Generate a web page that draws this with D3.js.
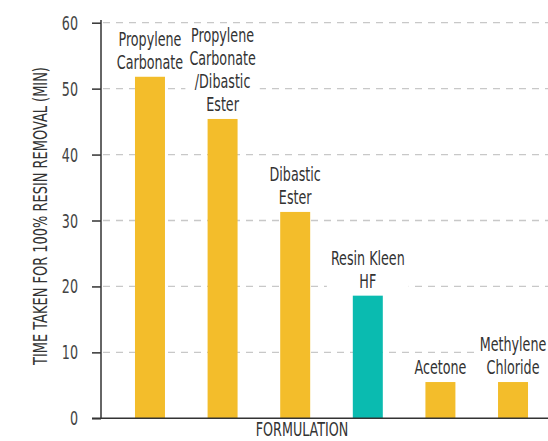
<!DOCTYPE html>
<html><head><meta charset="utf-8">
<script src="https://cdn.jsdelivr.net/npm/d3@7"></script>
<style>
html,body{margin:0;padding:0;background:#fff;}
text{font-family:"DejaVu Sans Condensed","Liberation Sans Narrow",sans-serif;fill:#333;}
</style></head>
<body><svg id="c" width="548" height="441"></svg>
<script>
const categories = ["Propylene Carbonate", "Propylene Carbonate /Dibastic Ester", "Dibastic Ester", "Resin Kleen HF", "Acetone", "Methylene Chloride"];
const labelLines = [["Propylene","Carbonate"],["Propylene","Carbonate","/Dibastic","Ester"],["Dibastic","Ester"],["Resin Kleen","HF"],["Acetone"],["Methylene","Chloride"]];
const values = [51.8, 45.4, 31.3, 18.6, 5.5, 5.5];
const highlight = [false, false, false, true, false, false];
const yTicks = [0, 10, 20, 30, 40, 50, 60];
const yTitle = "TIME TAKEN FOR 100% RESIN REMOVAL (MIN)";
const xTitle = "FORMULATION";

const svg = d3.select("#c");
const W = 548, H = 441;
const x0 = 101, y0 = 418.3, yTop = 22.7;
const y = d3.scaleLinear().domain([0, 60]).range([y0, yTop]);
const x = d3.scaleBand().domain(categories).range([x0, 562]).paddingInner(0.587).paddingOuter(0.468);

// horizontal condensing factor to mimic a condensed DIN-like face
const FS = 19;
const probe = svg.append("text").attr("font-size", FS).text("Propylene");
const K = 63 / probe.node().getComputedTextLength();
probe.remove();
// place a text at (px,py) squeezed horizontally by factor k
function placeText(parent, str, px, py, anchor, size, k) {
  return parent.append("text").attr("text-anchor", anchor).attr("font-size", size)
    .attr("transform", `translate(${px},${py}) scale(${k},1)`).text(str);
}

// grid
svg.append("g").selectAll("line").data(yTicks.filter(d => d > 0)).join("line")
  .attr("x1", x0 + 2).attr("x2", W).attr("y1", d => y(d)).attr("y2", d => y(d))
  .attr("stroke", "#c8c8c8").attr("stroke-width", 1.3).attr("stroke-dasharray", "7,6");

// bars
svg.append("g").selectAll("rect").data(categories).join("rect")
  .attr("x", d => x(d)).attr("width", x.bandwidth())
  .attr("y", (d, i) => y(values[i])).attr("height", (d, i) => y0 - y(values[i]))
  .attr("fill", (d, i) => highlight[i] ? "#0ABBB0" : "#F3BD2B");

// labels
const lh = 23;
categories.forEach((c, i) => {
  const lines = labelLines[i];
  const cx = x(c) + x.bandwidth() / 2;
  const lastBase = y(values[i]) - 8;
  const g = svg.append("g");
  const bg = g.append("rect").attr("fill", "#fff");
  let maxW = 0;
  lines.forEach((l, j) => {
    const t = placeText(g, l, cx, lastBase - (lines.length - 1 - j) * lh, "middle", FS, K);
    maxW = Math.max(maxW, t.node().getComputedTextLength() * K);
  });
  const top = lastBase - (lines.length - 1) * lh - 15;
  bg.attr("x", cx - maxW / 2 - 4).attr("y", top).attr("width", maxW + 8).attr("height", lastBase + 5 - top);
});

// y axis
const yAxis = d3.axisLeft(y).tickValues(yTicks).tickSize(9).tickFormat("");
const ga = svg.append("g").attr("transform", `translate(${x0},0)`).call(yAxis);
ga.select(".domain").remove();
ga.selectAll(".tick line").attr("stroke", "#333").attr("stroke-width", 1.5);
const tl = svg.append("g");
yTicks.forEach(v => {
  placeText(tl, d3.format("d")(v), x0 - 23, y(v) + 7, "end", FS, K).style("fill", "#444");
});
svg.append("line").attr("x1", x0).attr("x2", x0).attr("y1", 20).attr("y2", y0)
  .attr("stroke", "#333").attr("stroke-width", 1.5);
// x axis line
svg.append("line").attr("x1", 92).attr("x2", W).attr("y1", y0).attr("y2", y0)
  .attr("stroke", "#333").attr("stroke-width", 1.5);

// titles
const yt = svg.append("text").attr("text-anchor", "middle").attr("font-size", 19).text(yTitle);
const ytK = 298 / yt.node().getComputedTextLength();
yt.attr("transform", `translate(47,216) rotate(-90) scale(${ytK},1)`);
placeText(svg, xTitle, 302, 436, "middle", FS, K);
</script></body></html>
